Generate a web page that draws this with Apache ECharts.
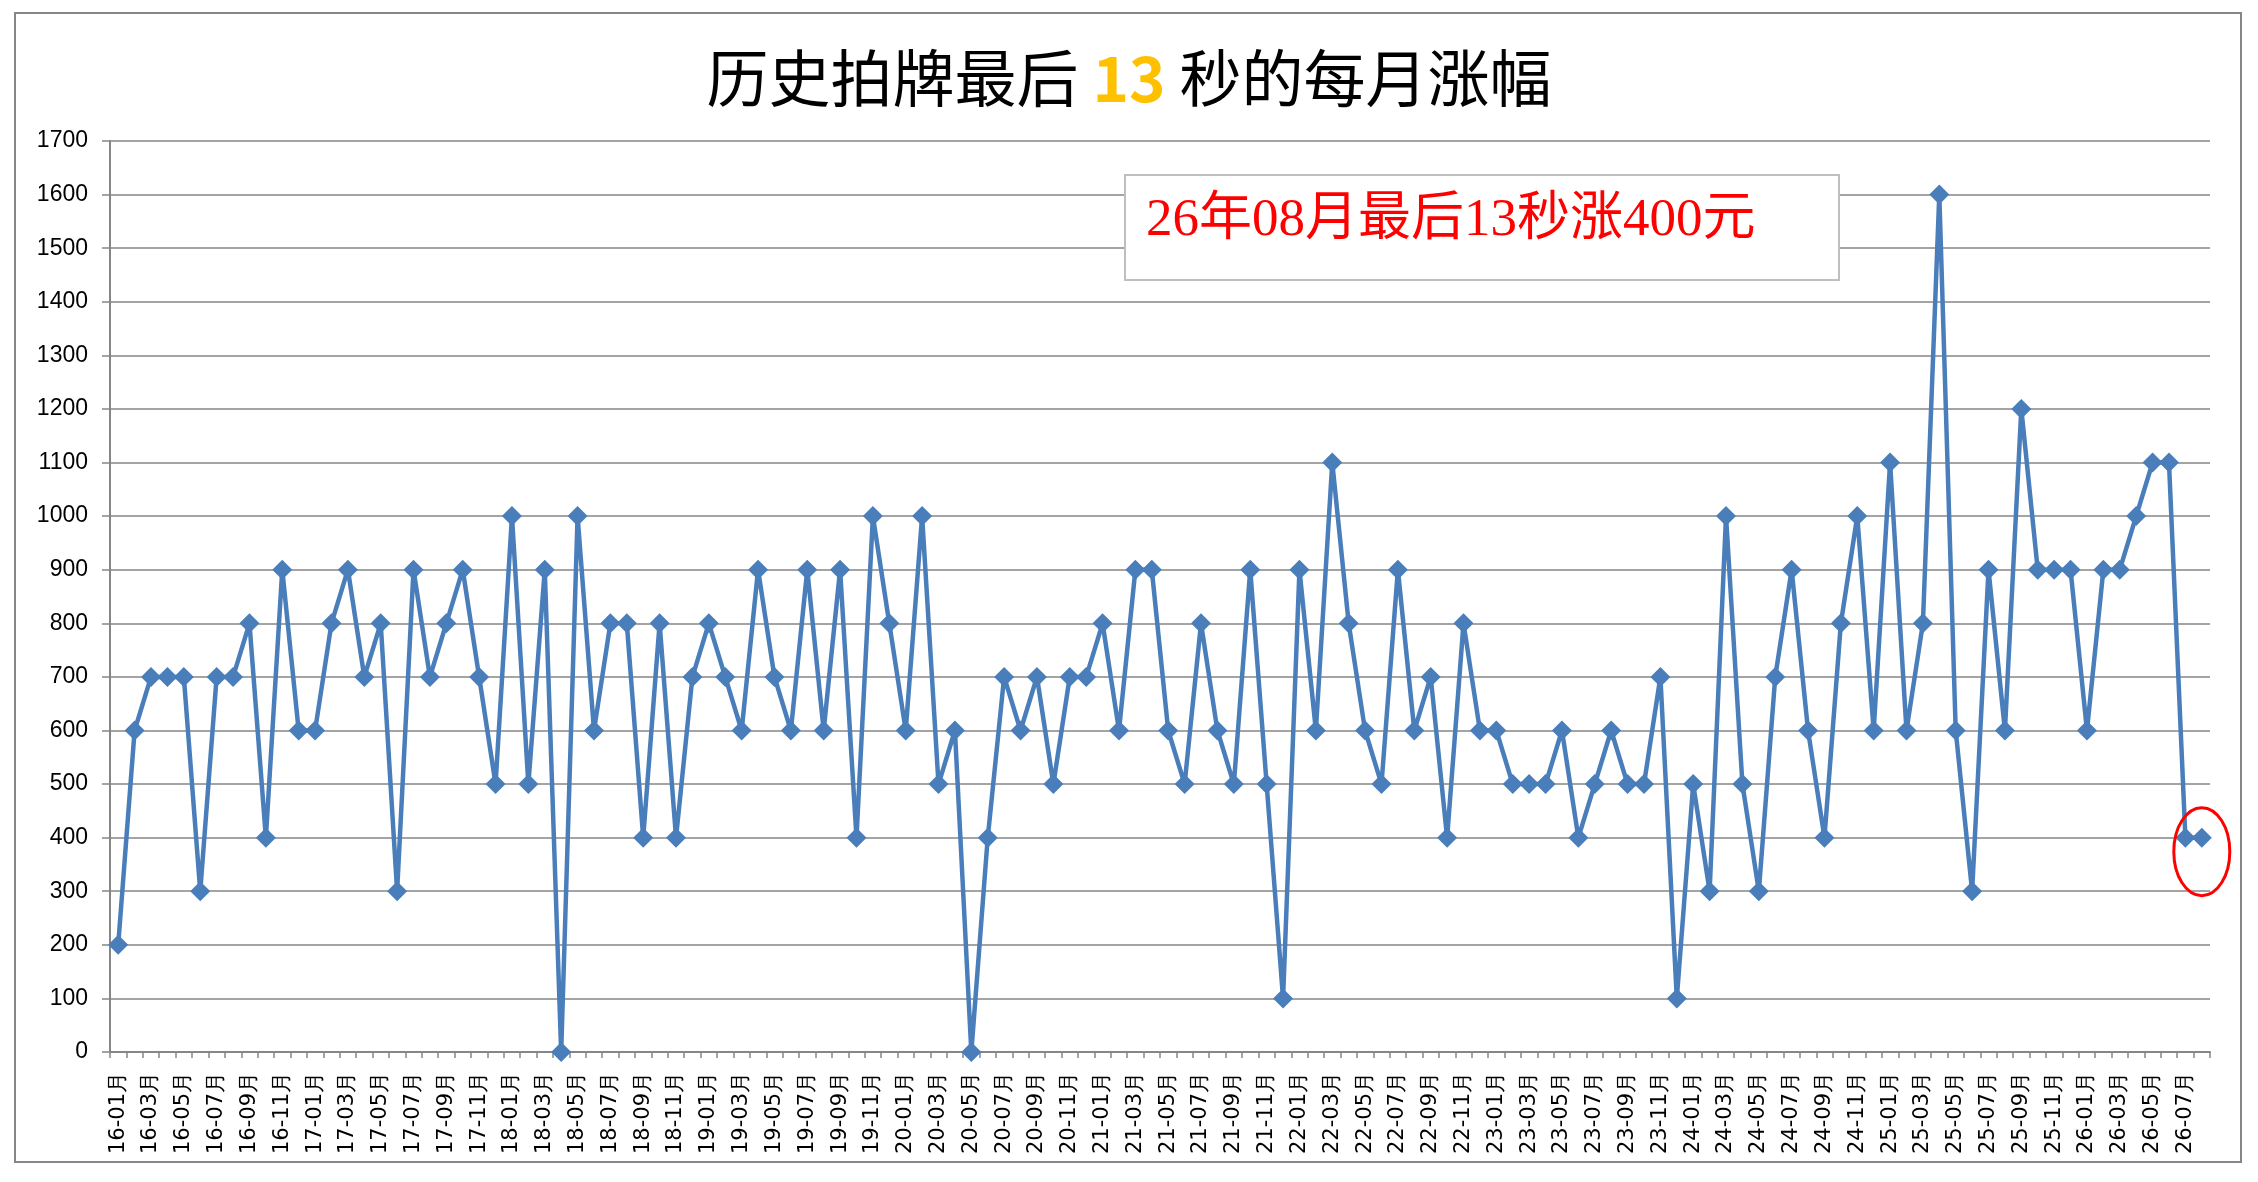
<!DOCTYPE html>
<html>
<head>
<meta charset="utf-8">
<script src="https://cdn.jsdelivr.net/npm/echarts@6/dist/echarts.min.js"></script>
<style>
html,body{margin:0;padding:0;background:#fff;}
#wrap{position:absolute;left:14px;top:12px;width:2228px;height:1151px;border:2px solid #868686;box-sizing:border-box;}
#chart{position:absolute;left:0;top:0;width:2258px;height:1182px;}
</style>
</head>
<body>
<div id="wrap"></div>
<div id="chart"></div>
<script>
const categories = [
'16-01月','16-02月','16-03月','16-04月','16-05月','16-06月','16-07月','16-08月','16-09月','16-10月','16-11月','16-12月',
'17-01月','17-02月','17-03月','17-04月','17-05月','17-06月','17-07月','17-08月','17-09月','17-10月','17-11月','17-12月',
'18-01月','18-02月','18-03月','18-04月','18-05月','18-06月','18-07月','18-08月','18-09月','18-10月','18-11月','18-12月',
'19-01月','19-02月','19-03月','19-04月','19-05月','19-06月','19-07月','19-08月','19-09月','19-10月','19-11月','19-12月',
'20-01月','20-02月','20-03月','20-04月','20-05月','20-06月','20-07月','20-08月','20-09月','20-10月','20-11月','20-12月',
'21-01月','21-02月','21-03月','21-04月','21-05月','21-06月','21-07月','21-08月','21-09月','21-10月','21-11月','21-12月',
'22-01月','22-02月','22-03月','22-04月','22-05月','22-06月','22-07月','22-08月','22-09月','22-10月','22-11月','22-12月',
'23-01月','23-02月','23-03月','23-04月','23-05月','23-06月','23-07月','23-08月','23-09月','23-10月','23-11月','23-12月',
'24-01月','24-02月','24-03月','24-04月','24-05月','24-06月','24-07月','24-08月','24-09月','24-10月','24-11月','24-12月',
'25-01月','25-02月','25-03月','25-04月','25-05月','25-06月','25-07月','25-08月','25-09月','25-10月','25-11月','25-12月',
'26-01月','26-02月','26-03月','26-04月','26-05月','26-06月','26-07月','26-08月'
];
const values2016 = [200,600,700,700,700,300,700,700,800,400,900,600];
const values2017 = [600,800,900,700,800,300,900,700,800,900,700,500];
const values2018 = [1000,500,900,0,1000,600,800,800,400,800,400,700];
const values2019 = [800,700,600,900,700,600,900,600,900,400,1000,800];
const values2020 = [600,1000,500,600,0,400,700,600,700,500,700,700];
const values2021 = [800,600,900,900,600,500,800,600,500,900,500,100];
const values2022 = [900,600,1100,800,600,500,900,600,700,400,800,600];
const values2023 = [600,500,500,500,600,400,500,600,500,500,700,100];
const values2024 = [500,300,1000,500,300,700,900,600,400,800,1000,600];
const values2025 = [1100,600,800,1600,600,300,900,600,1200,900,900,900];
const values2026 = [600,900,900,1000,1100,1100,400,400];
const values = [].concat(values2016,values2017,values2018,values2019,values2020,values2021,
  values2022,values2023,values2024,values2025,values2026);
const titleMain1 = '历史拍牌最后 ';
const titleNum = '13';
const titleMain2 = ' 秒的每月涨幅';
const noteText = '26年08月最后13秒涨400元';
const yMin = 0, yMax = 1700, yStep = 100;

const chart = echarts.init(document.getElementById('chart'), null, {renderer:'canvas'});
const gray = '#868686';
const boxRect = {type: 'rect', z: 10, shape: {x: 1125, y: 175, width: 714, height: 105},
  style: {fill: '#fff', stroke: '#BFBFBF', lineWidth: 2}};
const boxText = {type: 'text', z: 11, x: 1146, y: 221,
  style: {text: noteText, fill: '#FF0000', font: '53px "Liberation Serif", "Noto Sans CJK SC"', verticalAlign: 'middle'}};
chart.setOption({
  backgroundColor: 'transparent',
  animation: false,
  title: {
    text: '{a|' + titleMain1 + '}{b|' + titleNum + '}{a|' + titleMain2 + '}',
    left: 'center',
    top: 38,
    textStyle: {
      fontWeight: 'normal',
      rich: {
        a: {fontFamily: '"Noto Sans CJK SC"', fontSize: 62, fontWeight: 'normal', color: '#000', lineHeight: 70},
        b: {fontFamily: '"Noto Sans CJK SC"', fontSize: 62, fontWeight: 'bold', color: '#FFC000', lineHeight: 70}
      }
    }
  },
  grid: {left: 110, right: 48, top: 141, bottom: 130, containLabel: false},
  xAxis: {
    type: 'category',
    data: categories,
    boundaryGap: true,
    axisLine: {lineStyle: {color: gray, width: 2}},
    axisTick: {show: true, interval: 0, length: 6, lineStyle: {color: gray, width: 1.5}},
    axisLabel: {interval: 1, rotate: 90, margin: 20, fontFamily: '"DejaVu Sans"', fontSize: 21, color: '#000'},
    splitLine: {show: false}
  },
  yAxis: {
    type: 'value',
    min: yMin, max: yMax, interval: yStep,
    axisLine: {show: true, lineStyle: {color: gray, width: 2}},
    axisTick: {show: true, length: 8, lineStyle: {color: gray, width: 1.5}},
    axisLabel: {margin: 22, fontFamily: '"Liberation Sans"', fontSize: 23, color: '#000',
      formatter: function (v) { return String(v); }},
    splitLine: {show: true, lineStyle: {color: gray, width: 1.5}}
  },
  series: [{
    type: 'line',
    data: values,
    symbol: 'diamond',
    symbolSize: 20,
    showAllSymbol: true,
    lineStyle: {color: '#4A7EBB', width: 4.5},
    itemStyle: {color: '#4A7EBB'},
    z: 3
  }],
  graphic: [boxRect, boxText]
});
const last = values.length - 1;
const p = chart.convertToPixel({seriesIndex: 0}, [last, values[last]]);
chart.setOption({
  graphic: [boxRect, boxText,
    {type: 'ellipse', z: 12, shape: {cx: p[0], cy: p[1] + 14, rx: 28, ry: 44},
     style: {fill: 'none', stroke: '#FF0000', lineWidth: 3}}
  ]
}, {replaceMerge: ['graphic']});
</script>
</body>
</html>
